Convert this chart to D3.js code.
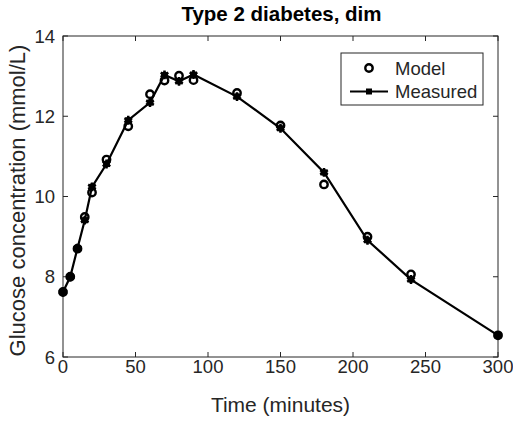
<!DOCTYPE html>
<html>
<head>
<meta charset="utf-8">
<script src="https://cdn.jsdelivr.net/npm/d3@7"></script>
<style>
  html, body { margin: 0; padding: 0; background: #fff; }
  svg { display: block; font-family: "Liberation Sans", Arial, sans-serif; }
</style>
</head>
<body>
<div id="chart"></div>
<script>
// sample times (minutes)
const times = [0, 5, 10, 15, 20, 30, 45, 60, 70, 80, 90, 120, 150, 180, 210, 240, 300];
// glucose, mmol/L
const measured = [7.62, 8.0, 8.71, 9.41, 10.24, 10.81, 11.9, 12.34, 13.03, 12.87, 13.04, 12.49, 11.7, 10.6, 8.91, 7.93, 6.54];
const model = [7.62, 8.0, 8.7, 9.49, 10.1, 10.92, 11.75, 12.55, 12.89, 13.01, 12.9, 12.58, 11.77, 10.3, 9.0, 8.06, 6.54];
const xTicks = [0, 50, 100, 150, 200, 250, 300];
const yTicks = [6, 8, 10, 12, 14];

const width = 513, height = 423;
const margin = { top: 36, right: 15, bottom: 66, left: 63 };
const ink = "#262626";

const svg = d3.select("#chart").append("svg")
  .attr("width", width)
  .attr("height", height);

const x = d3.scaleLinear().domain([0, 300]).range([margin.left, width - margin.right]);
const y = d3.scaleLinear().domain([6, 14]).range([height - margin.bottom, margin.top]);

const x0 = x.range()[0], x1 = x.range()[1];
const y0 = y.range()[0], y1 = y.range()[1];

// box
svg.append("rect")
  .attr("x", x0).attr("y", y1)
  .attr("width", x1 - x0).attr("height", y0 - y1)
  .attr("fill", "#fff").attr("stroke", ink).attr("stroke-width", 1);

const tl = 5;
const tickG = svg.append("g").attr("stroke", ink).attr("stroke-width", 1);
xTicks.forEach(t => {
  tickG.append("line").attr("x1", x(t)).attr("x2", x(t)).attr("y1", y0).attr("y2", y0 - tl);
  tickG.append("line").attr("x1", x(t)).attr("x2", x(t)).attr("y1", y1).attr("y2", y1 + tl);
});
yTicks.forEach(t => {
  tickG.append("line").attr("x1", x0).attr("x2", x0 + tl).attr("y1", y(t)).attr("y2", y(t));
  tickG.append("line").attr("x1", x1).attr("x2", x1 - tl).attr("y1", y(t)).attr("y2", y(t));
});

svg.append("g").selectAll("text").data(xTicks).join("text")
  .attr("x", d => x(d)).attr("y", y0 + 16)
  .attr("text-anchor", "middle")
  .attr("font-size", 18.5).attr("fill", ink)
  .text(d => d);

svg.append("g").selectAll("text").data(yTicks).join("text")
  .attr("x", x0 - 8).attr("y", d => y(d) + 6.5)
  .attr("text-anchor", "end")
  .attr("font-size", 18.5).attr("fill", ink)
  .text(d => d);

// labels
svg.append("text")
  .attr("x", (x0 + x1) / 2).attr("y", 412)
  .attr("text-anchor", "middle").attr("font-size", 21).attr("fill", ink)
  .text("Time (minutes)");

svg.append("text")
  .attr("transform", `translate(25, ${(y0 + y1) / 2 + 4}) rotate(-90)`)
  .attr("text-anchor", "middle").attr("font-size", 22).attr("fill", ink)
  .text("Glucose concentration (mmol/L)");

svg.append("text")
  .attr("x", (x0 + x1) / 2 + 1).attr("y", 21)
  .attr("text-anchor", "middle").attr("font-size", 20.5).attr("font-weight", "bold").attr("fill", "#000")
  .text("Type 2 diabetes, dim");

// data
const pts = times.map((t, i) => ({ t, m: measured[i], p: model[i] }));

svg.append("path")
  .datum(pts)
  .attr("fill", "none").attr("stroke", "#000").attr("stroke-width", 2.2)
  .attr("d", d3.line().x(d => x(d.t)).y(d => y(d.m)));

const star = d3.symbol().type(d3.symbolAsterisk).size(55);
const drawMeasured = (g, cx, cy) => {
  g.append("path").attr("d", star).attr("transform", `translate(${cx},${cy})`)
    .attr("fill", "none").attr("stroke", "#000").attr("stroke-width", 2.5);
  g.append("circle").attr("cx", cx).attr("cy", cy).attr("r", 3.5).attr("fill", "#000");
};

const mG = svg.append("g");
pts.forEach(d => drawMeasured(mG, x(d.t), y(d.m)));

svg.append("g").selectAll("circle").data(pts).join("circle")
  .attr("cx", d => x(d.t)).attr("cy", d => y(d.p))
  .attr("r", 3.7)
  .attr("fill", "none").attr("stroke", "#000").attr("stroke-width", 2.4);

// legend
const lg = svg.append("g");
lg.append("rect")
  .attr("x", 341).attr("y", 53).attr("width", 142).attr("height", 52)
  .attr("fill", "#fff").attr("stroke", ink).attr("stroke-width", 1);
lg.append("circle").attr("cx", 369).attr("cy", 68).attr("r", 3.7)
  .attr("fill", "none").attr("stroke", "#000").attr("stroke-width", 2.4);
lg.append("text").attr("x", 395).attr("y", 75).attr("font-size", 18.5).attr("fill", ink).text("Model");
lg.append("line").attr("x1", 350).attr("x2", 388).attr("y1", 91.5).attr("y2", 91.5)
  .attr("stroke", "#000").attr("stroke-width", 2.2);
lg.append("rect").attr("x", 366).attr("y", 88.5).attr("width", 6).attr("height", 6).attr("fill", "#000");
lg.append("text").attr("x", 395).attr("y", 98).attr("font-size", 18.5).attr("fill", ink).text("Measured");
</script>
</body>
</html>
